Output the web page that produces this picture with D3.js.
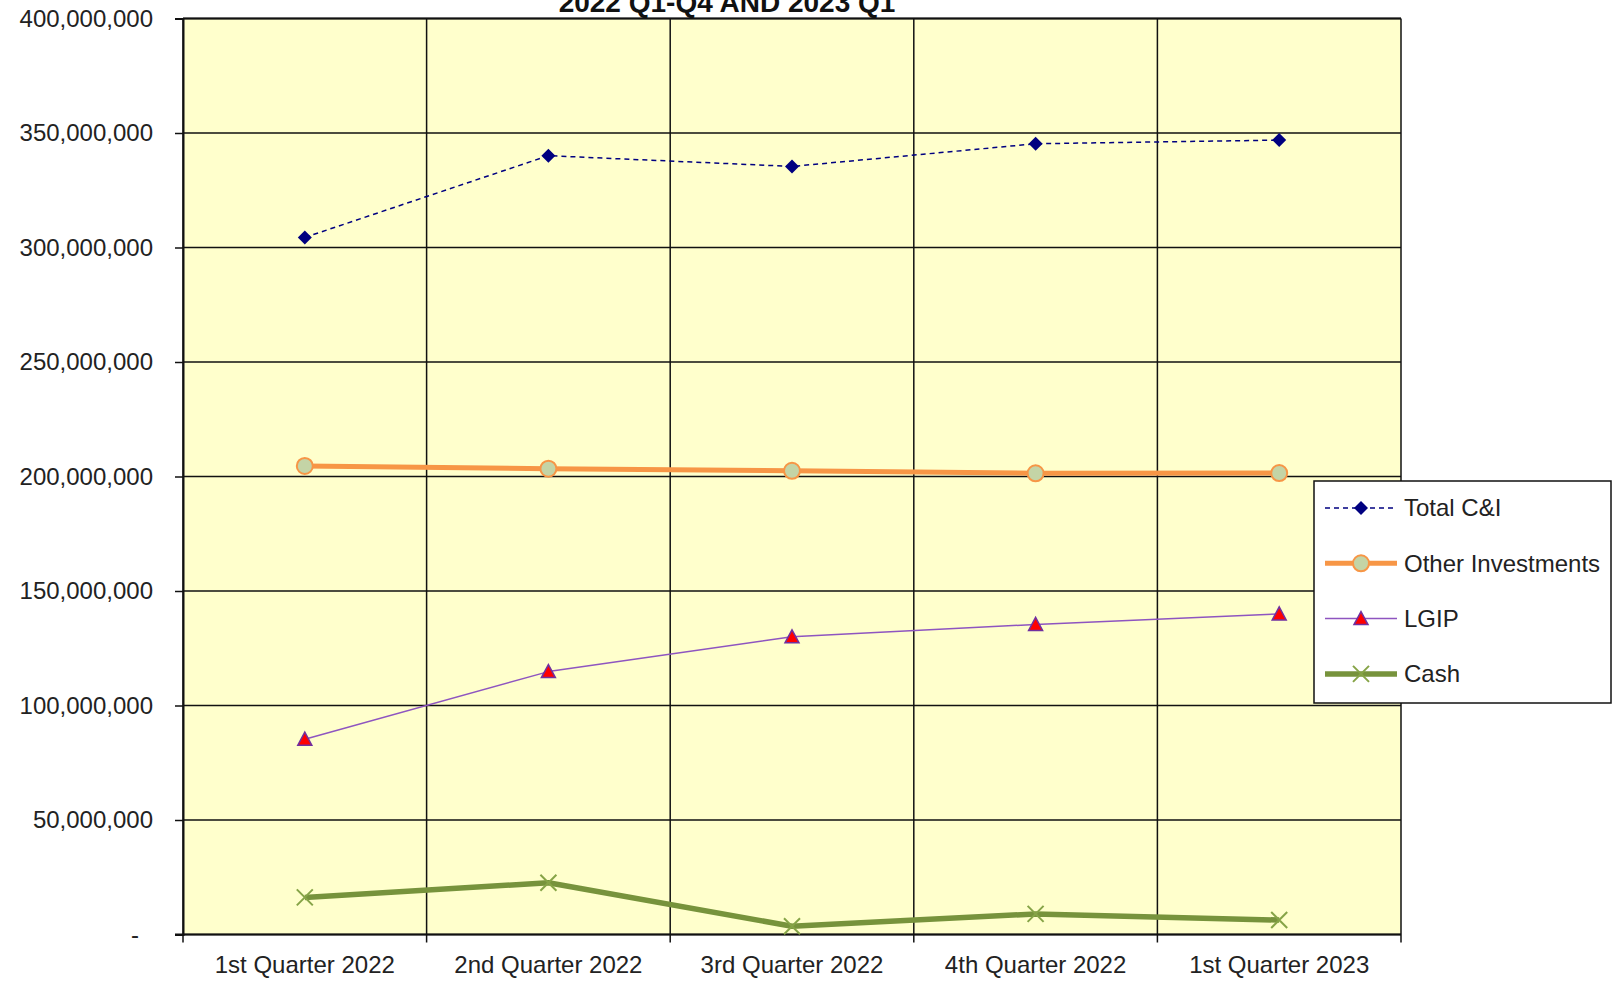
<!DOCTYPE html>
<html>
<head>
<meta charset="utf-8">
<script src="https://cdn.jsdelivr.net/npm/d3@7"></script>
<style>
  html, body { margin: 0; padding: 0; background: #fff; }
  svg { display: block; font-family: "Liberation Sans", Arial, sans-serif; }
</style>
</head>
<body>
<div id="chart"></div>
<script>
// quarters on the x axis
const quarters = ["1st Quarter 2022", "2nd Quarter 2022", "3rd Quarter 2022", "4th Quarter 2022", "1st Quarter 2023"];
// values (USD)
const totalCI = [304400000, 340100000, 335400000, 345300000, 346900000];
const otherInvestments = [204600000, 203400000, 202500000, 201400000, 201500000];
const lgip = [85300000, 114800000, 130000000, 135400000, 140000000];
const cash = [16200000, 22600000, 3600000, 9000000, 6300000];
const yTicks = [0, 50000000, 100000000, 150000000, 200000000, 250000000, 300000000, 350000000, 400000000];
const seriesNames = ["Total C&I", "Other Investments", "LGIP", "Cash"];

const width = 1614, height = 988;
const margin = { left: 183, right: 213, top: 18.5, bottom: 53.5 };

const svg = d3.select("#chart").append("svg")
  .attr("width", width)
  .attr("height", height);

const x = d3.scaleBand()
  .domain(quarters)
  .range([margin.left, width - margin.right])
  .padding(0);

const y = d3.scaleLinear()
  .domain([0, 400000000])
  .range([height - margin.bottom, margin.top]);

const xc = (d, i) => x(quarters[i]) + x.bandwidth() / 2;

// plot area
svg.append("rect")
  .attr("x", x.range()[0])
  .attr("y", y(400000000))
  .attr("width", x.range()[1] - x.range()[0])
  .attr("height", y(0) - y(400000000))
  .attr("fill", "#ffffcc");

// horizontal grid + y axis
const fmt = d3.format(",");
const yAxis = d3.axisLeft(y)
  .tickValues(yTicks)
  .tickSize(8)
  .tickPadding(22)
  .tickFormat(d => d === 0 ? "-" : fmt(d));

svg.append("g")
  .attr("class", "grid")
  .selectAll("line")
  .data(yTicks)
  .join("line")
  .attr("x1", x.range()[0])
  .attr("x2", x.range()[1])
  .attr("y1", d => y(d))
  .attr("y2", d => y(d))
  .attr("stroke", "#111")
  .attr("stroke-width", 1.5);

// vertical grid at category boundaries
const xEdges = quarters.map(q => x(q)).concat([x.range()[1]]);
svg.append("g")
  .selectAll("line")
  .data(xEdges)
  .join("line")
  .attr("x1", d => d)
  .attr("x2", d => d)
  .attr("y1", y(400000000))
  .attr("y2", y(0) + 8)
  .attr("stroke", "#111")
  .attr("stroke-width", 1.5);

const gy = svg.append("g")
  .attr("transform", `translate(${margin.left},0)`)
  .call(yAxis);
gy.select(".domain").attr("stroke", "#111").attr("stroke-width", 2);
gy.selectAll(".tick line").attr("stroke", "#111").attr("stroke-width", 1.5);
gy.selectAll(".tick text")
  .attr("font-size", 24)
  .attr("fill", "#222")
  .attr("dx", d => d === 0 ? -14 : 0);

// x axis line + labels
svg.append("line")
  .attr("x1", x.range()[0] - 8)
  .attr("x2", x.range()[1])
  .attr("y1", y(0))
  .attr("y2", y(0))
  .attr("stroke", "#111")
  .attr("stroke-width", 2);

svg.append("line")
  .attr("x1", x.range()[0])
  .attr("x2", x.range()[1])
  .attr("y1", y(400000000))
  .attr("y2", y(400000000))
  .attr("stroke", "#111")
  .attr("stroke-width", 2);

svg.append("g")
  .selectAll("text")
  .data(quarters)
  .join("text")
  .attr("x", d => x(d) + x.bandwidth() / 2)
  .attr("y", y(0) + 38)
  .attr("text-anchor", "middle")
  .attr("font-size", 24)
  .attr("fill", "#222")
  .text(d => d);

// title (upper line is cut off at the top, as in the source)
svg.append("text")
  .attr("x", 727)
  .attr("y", 12)
  .attr("text-anchor", "middle")
  .attr("font-size", 28)
  .attr("font-weight", "bold")
  .attr("fill", "#111")
  .text("2022 Q1-Q4 AND 2023 Q1");

const line = d3.line().x(xc).y(d => y(d));

// marker painters
function diamond(g, cx, cy) {
  g.append("path")
    .attr("d", `M${cx},${cy - 7}L${cx + 7},${cy}L${cx},${cy + 7}L${cx - 7},${cy}Z`)
    .attr("fill", "#000080");
}
function circle(g, cx, cy) {
  g.append("circle").attr("cx", cx).attr("cy", cy).attr("r", 8)
    .attr("fill", "#c4d4a6").attr("stroke", "#f79646").attr("stroke-width", 2);
}
function triangle(g, cx, cy) {
  g.append("path")
    .attr("d", `M${cx},${cy - 7}L${cx + 7},${cy + 6}L${cx - 7},${cy + 6}Z`)
    .attr("fill", "#ff0000").attr("stroke", "#7030a0").attr("stroke-width", 1.5);
}
function cross(g, cx, cy) {
  g.append("path")
    .attr("d", `M${cx - 8},${cy - 8}L${cx + 8},${cy + 8}M${cx + 8},${cy - 8}L${cx - 8},${cy + 8}`)
    .attr("stroke", "#86a447").attr("stroke-width", 2).attr("fill", "none");
}

const series = [
  { name: seriesNames[0], values: totalCI, color: "#000080", width: 1.5, dash: "5,4", marker: diamond },
  { name: seriesNames[1], values: otherInvestments, color: "#f79646", width: 5, dash: null, marker: circle },
  { name: seriesNames[2], values: lgip, color: "#8e55c0", width: 1.5, dash: null, marker: triangle },
  { name: seriesNames[3], values: cash, color: "#77933c", width: 5.5, dash: null, marker: cross }
];

series.forEach(s => {
  const g = svg.append("g");
  g.append("path")
    .attr("d", line(s.values))
    .attr("fill", "none")
    .attr("stroke", s.color)
    .attr("stroke-width", s.width)
    .attr("stroke-dasharray", s.dash)
    .attr("stroke-linejoin", "round");
  s.values.forEach((v, i) => s.marker(g, xc(v, i), y(v)));
});

// legend
const lg = svg.append("g");
lg.append("rect")
  .attr("x", 1314).attr("y", 481)
  .attr("width", 297).attr("height", 222)
  .attr("fill", "#fff")
  .attr("stroke", "#111")
  .attr("stroke-width", 1.5);

series.forEach((s, i) => {
  const ly = 508 + i * 55.3;
  lg.append("line")
    .attr("x1", 1325).attr("x2", 1397)
    .attr("y1", ly).attr("y2", ly)
    .attr("stroke", s.color)
    .attr("stroke-width", s.width)
    .attr("stroke-dasharray", s.dash);
  s.marker(lg, 1361, ly);
  lg.append("text")
    .attr("x", 1404).attr("y", ly)
    .attr("dy", "0.35em")
    .attr("font-size", 24)
    .attr("fill", "#222")
    .text(s.name);
});
</script>
</body>
</html>
